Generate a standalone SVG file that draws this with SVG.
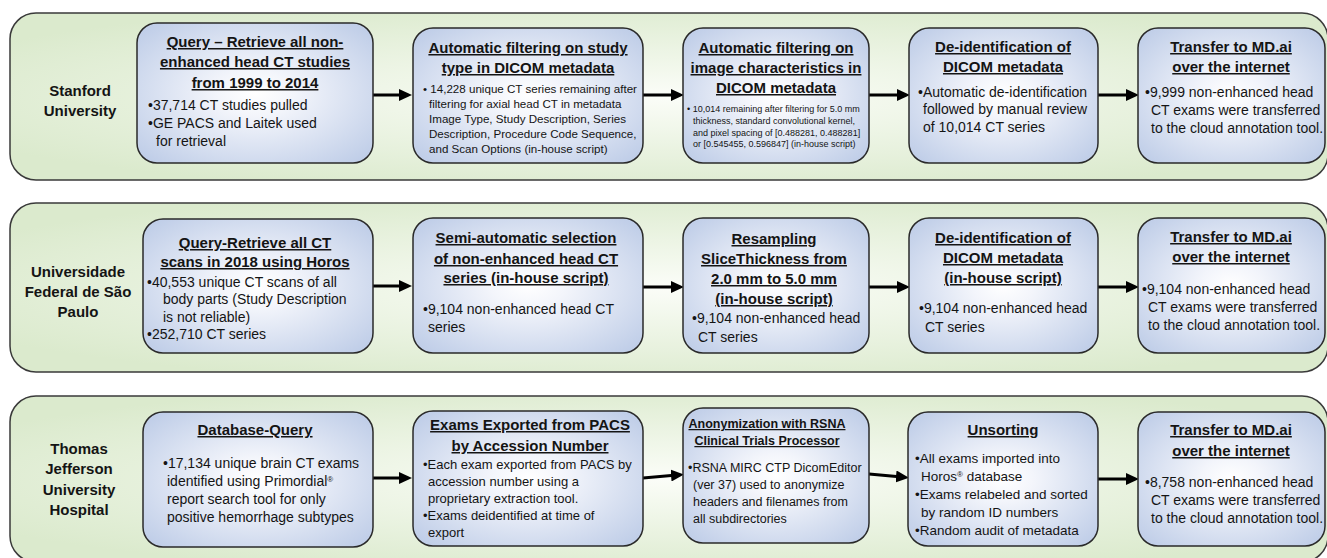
<svg xmlns="http://www.w3.org/2000/svg" width="1327" height="558" viewBox="0 0 1327 558">
<style>
.row{fill:url(#gGreen);stroke:#3a3a3a;stroke-width:1.5}
.box{fill:url(#gBlue);stroke:#2a2a2a;stroke-width:1.5}
text{font-family:"Liberation Sans",Arial,sans-serif;fill:#141414}
.lab{font-weight:bold;font-size:15px;text-anchor:middle}
.t{font-weight:bold;font-size:15px;text-anchor:middle;text-decoration:underline}
.t12{font-weight:bold;font-size:12.5px;text-anchor:middle;text-decoration:underline}
.b{font-size:14px}
.b13{font-size:13px}
.b125{font-size:12.5px}
.b135{font-size:13.5px}
.b12{font-size:11.6px}
.b95{font-size:9px}
.arr{stroke:#000;stroke-width:3;fill:none;marker-end:url(#ah)}
</style>
<defs>
<radialGradient id="gGreen" cx="50%" cy="50%" r="60%">
<stop offset="0" stop-color="#fbfdf8"/>
<stop offset="1" stop-color="#dbeacd"/>
</radialGradient>
<radialGradient id="gBlue" cx="50%" cy="50%" r="65%">
<stop offset="0" stop-color="#ffffff"/>
<stop offset="0.25" stop-color="#f3f5fb"/>
<stop offset="1" stop-color="#c0cee8"/>
</radialGradient>
<marker id="ah" markerUnits="userSpaceOnUse" markerWidth="13" markerHeight="12" refX="6" refY="6" orient="auto">
<path d="M0,0 L13,6 L0,12 z" fill="#000"/>
</marker>
</defs>

<g id="row-stanford">
<rect class="row" x="10" y="13" width="1318" height="167" rx="26"/>
<text class="lab" x="80" y="96">Stanford</text>
<text class="lab" x="80" y="116">University</text>
</g>
<g id="row-unifesp">
<rect class="row" x="10" y="203" width="1318" height="169" rx="26"/>
<text class="lab" x="78" y="277">Universidade</text>
<text class="lab" x="78" y="297">Federal de São</text>
<text class="lab" x="78" y="317">Paulo</text>
</g>
<g id="row-jefferson">
<rect class="row" x="10" y="396" width="1318" height="166" rx="26"/>
<text class="lab" x="79" y="454">Thomas</text>
<text class="lab" x="79" y="474">Jefferson</text>
<text class="lab" x="79" y="495">University</text>
<text class="lab" x="79" y="515">Hospital</text>
</g>

<g id="connectors">
<line class="arr" x1="373" y1="95" x2="405" y2="95"/>
<line class="arr" x1="643" y1="95" x2="677" y2="95"/>
<line class="arr" x1="869" y1="95" x2="903" y2="95"/>
<line class="arr" x1="1098" y1="95" x2="1132" y2="95"/>
<line class="arr" x1="373" y1="286" x2="405" y2="286"/>
<line class="arr" x1="643" y1="287" x2="677" y2="287"/>
<line class="arr" x1="869" y1="287" x2="903" y2="287"/>
<line class="arr" x1="1098" y1="287" x2="1132" y2="287"/>
<line class="arr" x1="373" y1="478" x2="405" y2="478"/>
<line class="arr" x1="643" y1="478" x2="677" y2="475"/>
<line class="arr" x1="869" y1="474" x2="902" y2="477"/>
<line class="arr" x1="1098" y1="479" x2="1132" y2="479"/>
</g>

<!-- Row 1 -->
<g id="s1">
<rect class="box" x="137" y="23" width="236" height="140" rx="20"/>
<text class="t" x="255" y="47">Query – Retrieve all non-</text>
<text class="t" x="255" y="67">enhanced head CT studies</text>
<text class="t" x="255" y="88">from 1999 to 2014</text>
<text class="b" x="148" y="110">•37,714 CT studies pulled</text>
<text class="b" x="148" y="128">•GE PACS and Laitek used</text>
<text class="b" x="156" y="146">for retrieval</text>
</g>
<g id="s2">
<rect class="box" x="413" y="28" width="230" height="135" rx="20"/>
<text class="t" x="528" y="53">Automatic filtering on study</text>
<text class="t" x="528" y="73">type in DICOM metadata</text>
<text class="b12" x="423" y="93">• 14,228 unique CT series remaining after</text>
<text class="b12" x="429" y="108">filtering for axial head CT in metadata</text>
<text class="b12" x="429" y="123">Image Type, Study Description, Series</text>
<text class="b12" x="429" y="138">Description, Procedure Code Sequence,</text>
<text class="b12" x="429" y="153">and Scan Options (in-house script)</text>
</g>
<g id="s3">
<rect class="box" x="683" y="28" width="186" height="135" rx="20"/>
<text class="t" x="776" y="53">Automatic filtering on</text>
<text class="t" x="776" y="73">image characteristics in</text>
<text class="t" x="776" y="93">DICOM metadata</text>
<text class="b95" x="687" y="112">• 10,014 remaining after filtering for 5.0 mm</text>
<text class="b95" x="693" y="124">thickness, standard convolutional kernel,</text>
<text class="b95" x="693" y="135.5">and pixel spacing of [0.488281, 0.488281]</text>
<text class="b95" x="693" y="147">or [0.545455, 0.596847] (in-house script)</text>
</g>
<g id="s4">
<rect class="box" x="909" y="28" width="189" height="135" rx="20"/>
<text class="t" x="1003" y="52">De-identification of</text>
<text class="t" x="1003" y="72">DICOM metadata</text>
<text class="b" x="918" y="97">•Automatic de-identification</text>
<text class="b" x="923" y="114">followed by manual review</text>
<text class="b" x="923" y="132">of 10,014 CT series</text>
</g>
<g id="s5">
<rect class="box" x="1138" y="28" width="187" height="135" rx="20"/>
<text class="t" x="1231" y="52">Transfer to MD.ai</text>
<text class="t" x="1231" y="72">over the internet</text>
<text class="b" x="1145" y="97">•9,999 non-enhanced head</text>
<text class="b" x="1151" y="115">CT exams were transferred</text>
<text class="b" x="1151" y="133">to the cloud annotation tool.</text>
</g>

<!-- Row 2 -->
<g id="u1">
<rect class="box" x="143" y="219" width="230" height="134" rx="20"/>
<text class="t" x="255" y="248">Query-Retrieve all CT</text>
<text class="t" x="255" y="267">scans in 2018 using Horos</text>
<text class="b" x="147" y="287">•40,553 unique CT scans of all</text>
<text class="b" x="163" y="304">body parts (Study Description</text>
<text class="b" x="163" y="322">is not reliable)</text>
<text class="b" x="147" y="339">•252,710 CT series</text>
</g>
<g id="u2">
<rect class="box" x="413" y="218" width="230" height="135" rx="20"/>
<text class="t" x="526" y="243">Semi-automatic selection</text>
<text class="t" x="526" y="264">of non-enhanced head CT</text>
<text class="t" x="526" y="283">series (in-house script)</text>
<text class="b" x="423" y="314">•9,104 non-enhanced head CT</text>
<text class="b" x="428" y="332">series</text>
</g>
<g id="u3">
<rect class="box" x="683" y="218" width="186" height="135" rx="20"/>
<text class="t" x="774" y="244">Resampling</text>
<text class="t" x="774" y="264">SliceThickness from</text>
<text class="t" x="774" y="284">2.0 mm to 5.0 mm</text>
<text class="t" x="774" y="304">(in-house script)</text>
<text class="b" x="692" y="323">•9,104 non-enhanced head</text>
<text class="b" x="698" y="342">CT series</text>
</g>
<g id="u4">
<rect class="box" x="909" y="218" width="189" height="135" rx="20"/>
<text class="t" x="1003" y="243">De-identification of</text>
<text class="t" x="1003" y="263">DICOM metadata</text>
<text class="t" x="1003" y="283">(in-house script)</text>
<text class="b" x="919" y="313">•9,104 non-enhanced head</text>
<text class="b" x="925" y="332">CT series</text>
</g>
<g id="u5">
<rect class="box" x="1138" y="218" width="187" height="135" rx="20"/>
<text class="t" x="1231" y="242">Transfer to MD.ai</text>
<text class="t" x="1231" y="262">over the internet</text>
<text class="b" x="1142" y="294">•9,104 non-enhanced head</text>
<text class="b" x="1148" y="312">CT exams were transferred</text>
<text class="b" x="1148" y="330">to the cloud annotation tool.</text>
</g>

<!-- Row 3 -->
<g id="j1">
<rect class="box" x="143" y="412" width="230" height="135" rx="20"/>
<text class="t" x="255" y="435">Database-Query</text>
<text class="b" x="163" y="468">•17,134 unique brain CT exams</text>
<text class="b" x="167" y="486">identified using Primordial<tspan font-size="8" baseline-shift="super">®</tspan></text>
<text class="b" x="167" y="504">report search tool for only</text>
<text class="b" x="167" y="522">positive hemorrhage subtypes</text>
</g>
<g id="j2">
<rect class="box" x="413" y="411" width="230" height="135" rx="20"/>
<text class="t" x="530" y="430">Exams Exported from PACS</text>
<text class="t" x="530" y="451">by Accession Number</text>
<text class="b13" x="423" y="469">•Each exam exported from PACS by</text>
<text class="b13" x="428" y="486">accession number using a</text>
<text class="b13" x="428" y="503">proprietary extraction tool.</text>
<text class="b13" x="423" y="520">•Exams deidentified at time of</text>
<text class="b13" x="428" y="537">export</text>
</g>
<g id="j3">
<rect class="box" x="683" y="408" width="186" height="135" rx="20"/>
<text class="t12" x="767" y="428">Anonymization with RSNA</text>
<text class="t12" x="767" y="445">Clinical Trials Processor</text>
<text class="b125" x="688" y="472">•RSNA MIRC CTP DicomEditor</text>
<text class="b125" x="693" y="489">(ver 37) used to anonymize</text>
<text class="b125" x="693" y="506">headers and filenames from</text>
<text class="b125" x="693" y="523">all subdirectories</text>
</g>
<g id="j4">
<rect class="box" x="908" y="412" width="190" height="134" rx="20"/>
<text class="t" x="1003" y="435">Unsorting</text>
<text class="b135" x="915" y="463">•All exams imported into</text>
<text class="b135" x="921" y="481">Horos<tspan font-size="8" baseline-shift="super">®</tspan> database</text>
<text class="b135" x="915" y="499">•Exams relabeled and sorted</text>
<text class="b135" x="921" y="517">by random ID numbers</text>
<text class="b135" x="915" y="535">•Random audit of metadata</text>
</g>
<g id="j5">
<rect class="box" x="1138" y="412" width="187" height="134" rx="20"/>
<text class="t" x="1231" y="435">Transfer to MD.ai</text>
<text class="t" x="1231" y="456">over the internet</text>
<text class="b" x="1145" y="487">•8,758 non-enhanced head</text>
<text class="b" x="1151" y="505">CT exams were transferred</text>
<text class="b" x="1151" y="523">to the cloud annotation tool.</text>
</g>
</svg>
